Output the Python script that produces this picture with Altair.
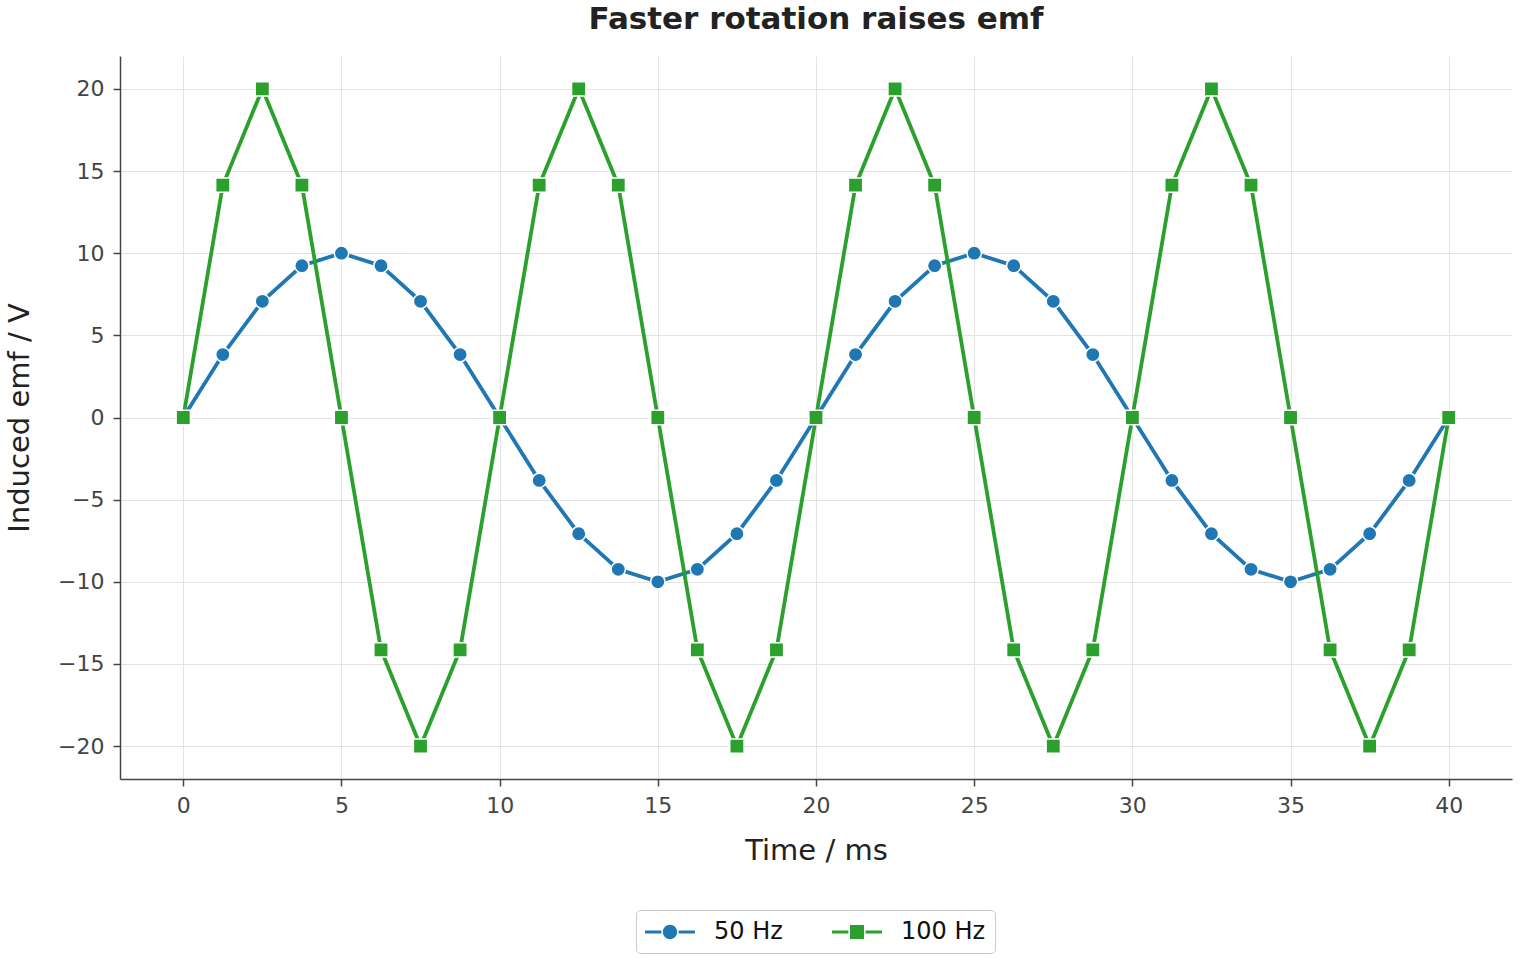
import altair as alt
import pandas as pd

# Sample times (ms) and induced emf (V) for the two rotation frequencies
time_ms = [0, 1.25, 2.5, 3.75, 5, 6.25, 7.5, 8.75, 10, 11.25, 12.5, 13.75,
           15, 16.25, 17.5, 18.75, 20, 21.25, 22.5, 23.75, 25, 26.25, 27.5,
           28.75, 30, 31.25, 32.5, 33.75, 35, 36.25, 37.5, 38.75, 40]
emf_50hz = [0, 3.83, 7.07, 9.24, 10, 9.24, 7.07, 3.83, 0, -3.83, -7.07, -9.24,
            -10, -9.24, -7.07, -3.83, 0, 3.83, 7.07, 9.24, 10, 9.24, 7.07,
            3.83, 0, -3.83, -7.07, -9.24, -10, -9.24, -7.07, -3.83, 0]
emf_100hz = [0, 14.14, 20, 14.14, 0, -14.14, -20, -14.14, 0, 14.14, 20, 14.14,
             0, -14.14, -20, -14.14, 0, 14.14, 20, 14.14, 0, -14.14, -20,
             -14.14, 0, 14.14, 20, 14.14, 0, -14.14, -20, -14.14, 0]

series_names = ["50 Hz", "100 Hz"]
series_colors = ["#1f77b4", "#2ca02c"]
series_shapes = ["circle", "square"]

x_ticks = [0, 5, 10, 15, 20, 25, 30, 35, 40]
y_ticks = [-20, -15, -10, -5, 0, 5, 10, 15, 20]

# Legend glyphs: a short line with the marker in the middle
# (path units: 1 unit = half the legend symbol box)
legend_circle = ("M-1.92,-0.115 L-0.66,-0.115 L-0.66,0.115 L-1.92,0.115 Z "
                 "M0.66,-0.115 L1.92,-0.115 L1.92,0.115 L0.66,0.115 Z "
                 "M0.55,0 A0.55,0.55 0 1,1 -0.55,0 A0.55,0.55 0 1,1 0.55,0 Z")
legend_square = ("M-1.92,-0.115 L-0.66,-0.115 L-0.66,0.115 L-1.92,0.115 Z "
                 "M0.66,-0.115 L1.92,-0.115 L1.92,0.115 L0.66,0.115 Z "
                 "M-0.54,-0.54 L0.54,-0.54 L0.54,0.54 L-0.54,0.54 Z")

df = pd.DataFrame({
    "t": time_ms + time_ms,
    "emf": emf_50hz + emf_100hz,
    "series": [series_names[0]] * len(time_ms) + [series_names[1]] * len(time_ms),
})

x_enc = alt.X(
    "t:Q",
    scale=alt.Scale(domain=[-2, 42], nice=False, zero=False),
    axis=alt.Axis(values=x_ticks, title="Time / ms", titleX=696, titleY=71,
                  titleBaseline="middle", titleAnchor="middle"),
)
y_enc = alt.Y(
    "emf:Q",
    scale=alt.Scale(domain=[-22, 22], nice=False, zero=False),
    axis=alt.Axis(values=y_ticks, title="Induced emf / V", titleX=-101,
                  titleY=361.5, titleAngle=-90, titleBaseline="middle",
                  titleAlign="center"),
)


def series_layers(name, color, shape):
    base = alt.Chart(df).transform_filter(alt.datum.series == name)
    line = base.mark_line(color=color, strokeWidth=3.8).encode(x=x_enc, y=y_enc)
    pts = base.mark_point(
        shape=shape, filled=True, fill=color, stroke="white",
        strokeWidth=1.5, size=205, opacity=1,
    ).encode(x=x_enc, y=y_enc)
    return [line, pts]


legend_def = alt.Legend(
    title=None, orient="none", legendX=516, legendY=854, direction="horizontal",
    labelFontSize=24, labelColor="#111111", symbolSize=676,
    symbolStrokeWidth=0, symbolOpacity=1, symbolOffset=12, labelOffset=31,
    columnPadding=49, padding=9, strokeColor="#cccccc", fillColor="white",
    cornerRadius=4,
)
legend_layer = alt.Chart(pd.DataFrame({"series": series_names})).mark_point(
    filled=True, opacity=0
).encode(
    color=alt.Color("series:N", scale=alt.Scale(domain=series_names, range=series_colors),
                    legend=legend_def),
    shape=alt.Shape("series:N", scale=alt.Scale(domain=series_names,
                                                range=[legend_circle, legend_square]),
                    legend=legend_def),
)

layers = []
for n, c, s in zip(series_names, series_colors, series_shapes):
    layers += series_layers(n, c, s)
layers.append(legend_layer)

chart = alt.layer(*layers).properties(
    width=1392,
    height=723,
    padding={"left": 120, "top": 56, "right": 8, "bottom": 181},
    autosize=alt.AutoSizeParams(type="none"),
    title=alt.TitleParams("Faster rotation raises emf", fontSize=31, fontWeight="bold",
                          color="#222222", anchor="middle", offset=20),
).configure(
    font="DejaVu Sans",
    background="white",
).configure_view(
    stroke="transparent", fill="#f9f9f9",
).configure_axis(
    labelFontSize=22, labelColor="#444444", titleFontSize=29, titleColor="#222222",
    titleFontWeight="normal", domainColor="#444444", domainWidth=1.5,
    tickColor="#444444", tickWidth=1.5, tickSize=7, labelPadding=9,
    gridColor="#e3e3e3", gridWidth=1,
)

chart.save("out.html", embed_options={"renderer": "svg", "actions": False})
